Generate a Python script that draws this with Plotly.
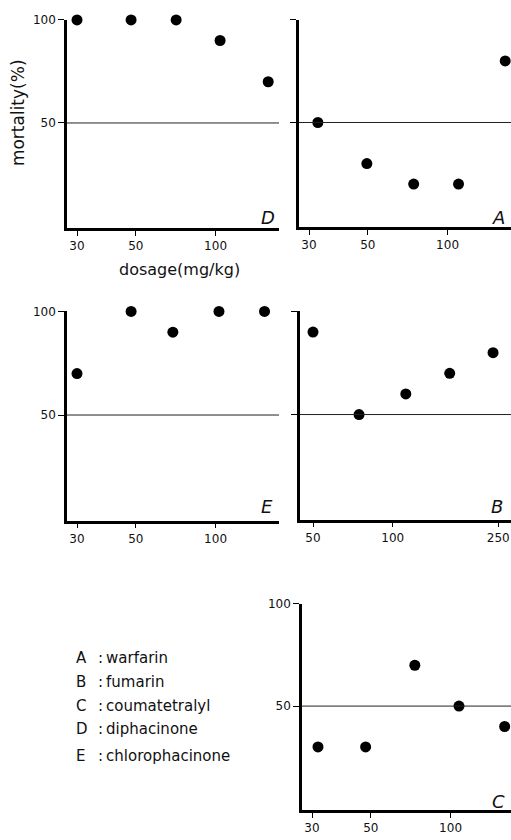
import math
import plotly.graph_objects as go

# ---------------- data ----------------
D_dose = [30, 48, 71, 104, 158]
D_mort = [100, 100, 100, 90, 70]

A_dose = [32.4, 49.6, 74.5, 110, 165]
A_mort = [50, 30, 20, 20, 80]

E_dose = [30, 48, 69, 103, 153]
E_mort = [70, 100, 90, 100, 100]

B_dose = [50, 74.6, 112, 164, 239]
B_mort = [90, 50, 60, 70, 80]

C_dose = [31.6, 47.8, 73.3, 107.6, 160]
C_mort = [30, 30, 70, 50, 40]

x_ticks_std = [30, 50, 100]
x_ticks_B = [50, 100, 250]
y_ticks = [50, 100]

legend_keys = ["A", "B", "C", "D", "E"]
legend_names = ["warfarin", "fumarin", "coumatetralyl", "diphacinone", "chlorophacinone"]

# ---------------- layout helpers ----------------
W, H = 511, 840
PX_PER_DECADE = 265.0


def fx(x):
    return x / W


def fy(y):
    return 1 - y / H


panels = [
    dict(letter="D", x=D_dose, y=D_mort, box=(67, 279, 13, 223), ref=(30, 77), ticks=x_ticks_std, ylab=True, lpos=(268, 212)),
    dict(letter="A", x=A_dose, y=A_mort, box=(299, 511, 13, 222), ref=(30, 309), ticks=x_ticks_std, ylab=False, lpos=(498, 212)),
    dict(letter="E", x=E_dose, y=E_mort, box=(67, 279, 307, 518), ref=(30, 77), ticks=x_ticks_std, ylab=True, lpos=(267, 504)),
    dict(letter="B", x=B_dose, y=B_mort, box=(300, 511, 307, 517), ref=(50, 313), ticks=x_ticks_B, ylab=False, lpos=(497, 504)),
    dict(letter="C", x=C_dose, y=C_mort, box=(302, 511, 602, 810), ref=(30, 312), ticks=x_ticks_std, ylab=True, lpos=(498, 801)),
]

FONT = "DejaVu Sans"
fig = go.Figure()
layout = dict(
    width=W, height=H,
    margin=dict(l=0, r=0, t=0, b=0),
    paper_bgcolor="white", plot_bgcolor="white",
    showlegend=False,
    font=dict(family=FONT, color="#111"),
)
shapes = []
annotations = []

for i, p in enumerate(panels, start=1):
    sfx = "" if i == 1 else str(i)
    l, r, t, b = p["box"]
    val, vpx = p["ref"]
    lo = math.log10(val) - (vpx - l) / PX_PER_DECADE
    hi = lo + (r - l) / PX_PER_DECADE
    fig.add_trace(go.Scatter(
        x=p["x"], y=p["y"], mode="markers",
        marker=dict(size=11, color="black"),
        cliponaxis=False,
        xaxis="x" + sfx, yaxis="y" + sfx,
    ))
    layout["xaxis" + sfx] = dict(
        type="log", range=[lo, hi], domain=[fx(l), fx(r)], anchor="y" + sfx,
        showline=True, linecolor="black", linewidth=2.5,
        ticks="outside", ticklen=5, tickwidth=1, tickcolor="black",
        tickvals=p["ticks"], ticktext=[str(v) for v in p["ticks"]],
        showgrid=False, zeroline=False,
        tickfont=dict(family=FONT, size=12, color="#111"),
    )
    layout["yaxis" + sfx] = dict(
        range=[-1, 100], domain=[fy(b), fy(t)], anchor="x" + sfx,
        showline=True, linecolor="black", linewidth=2.5,
        ticks="outside", ticklen=6, tickwidth=1, tickcolor="black",
        tickvals=y_ticks, ticktext=[str(v) for v in y_ticks],
        showticklabels=p["ylab"],
        showgrid=False, zeroline=False,
        tickfont=dict(family=FONT, size=12, color="#111"),
    )
    shapes.append(dict(
        type="line", xref="x" + sfx + " domain", yref="y" + sfx,
        x0=0, x1=1, y0=50, y1=50,
        line=dict(color="#222", width=1),
    ))
    lx, ly = p["lpos"]
    annotations.append(dict(
        x=fx(lx), y=fy(ly), xref="paper", yref="paper",
        text="<i>" + p["letter"] + "</i>", showarrow=False,
        font=dict(family=FONT, size=18, color="#111"),
        xanchor="center", yanchor="middle",
    ))

# axis titles
annotations.append(dict(
    x=fx(18), y=fy(107), xref="paper", yref="paper",
    text="mortality(%)", textangle=-90, showarrow=False,
    font=dict(family=FONT, size=17, color="#111"),
    xanchor="center", yanchor="middle",
))
annotations.append(dict(
    x=fx(179), y=fy(265), xref="paper", yref="paper",
    text="dosage(mg/kg)", showarrow=False,
    font=dict(family=FONT, size=16, color="#111"),
    xanchor="center", yanchor="middle",
))

# legend of compounds
leg_y = [656, 681, 705, 728, 755]
for k, name, yy in zip(legend_keys, legend_names, leg_y):
    annotations.append(dict(
        x=fx(74), y=fy(yy), xref="paper", yref="paper",
        text=k, showarrow=False,
        font=dict(family=FONT, size=15, color="#111"),
        xanchor="left", yanchor="middle",
    ))
    annotations.append(dict(
        x=fx(96), y=fy(yy), xref="paper", yref="paper",
        text=":\u2009" + name, showarrow=False,
        font=dict(family=FONT, size=15, color="#111"),
        xanchor="left", yanchor="middle",
    ))

layout["shapes"] = shapes
layout["annotations"] = annotations
fig.update_layout(**layout)
fig.write_html(
    "out.html",
    config={"displayModeBar": False},
    post_script="document.documentElement.style.margin='0';document.body.style.margin='0';"
                "document.body.style.overflow='hidden';",
)
